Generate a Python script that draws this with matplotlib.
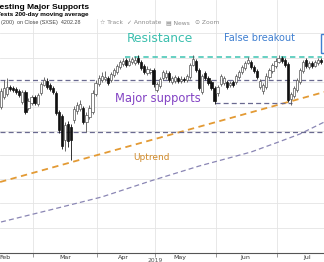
import matplotlib.pyplot as plt
from matplotlib.patches import Rectangle

# daily candles, mid Feb to mid Jul (index points)
opens = [4152, 4172, 4178, 4192, 4190, 4188, 4184, 4162, 4182, 4150,
         4160, 4172, 4158, 4180, 4196, 4204, 4196, 4190, 4180, 4142,
         4134, 4086, 4118, 4112, 4126, 4144, 4148, 4150, 4122, 4132,
         4142, 4178, 4198, 4206, 4208, 4210, 4206, 4216, 4222, 4232,
         4238, 4246, 4236, 4242, 4240, 4250, 4242, 4234, 4220, 4222,
         4226, 4186, 4194, 4210, 4212, 4220, 4202, 4204, 4210, 4204,
         4208, 4206, 4212, 4236, 4244, 4226, 4182, 4220, 4210, 4202,
         4190, 4180, 4198, 4200, 4202, 4196, 4202, 4202, 4212, 4222,
         4230, 4240, 4242, 4232, 4224, 4192, 4184, 4192, 4212, 4224,
         4234, 4242, 4250, 4246, 4238, 4168, 4174, 4186, 4202, 4224,
         4246, 4232, 4240, 4234, 4240, 4246]
closes = [4184, 4190, 4192, 4188, 4186, 4182, 4176, 4182, 4142, 4164,
          4172, 4160, 4176, 4198, 4206, 4192, 4188, 4182, 4140, 4106,
          4074, 4116, 4084, 4086, 4148, 4156, 4158, 4122, 4136, 4150,
          4180, 4200, 4210, 4214, 4212, 4200, 4218, 4226, 4234, 4242,
          4244, 4236, 4244, 4248, 4246, 4242, 4230, 4222, 4228, 4226,
          4198, 4198, 4208, 4222, 4220, 4206, 4210, 4212, 4204, 4208,
          4206, 4214, 4236, 4248, 4226, 4190, 4214, 4210, 4200, 4190,
          4164, 4192, 4214, 4210, 4192, 4200, 4196, 4214, 4222, 4232,
          4240, 4246, 4232, 4224, 4212, 4204, 4196, 4214, 4226, 4236,
          4244, 4250, 4244, 4236, 4166, 4178, 4190, 4206, 4226, 4242,
          4234, 4240, 4234, 4242, 4246, 4242]
highs = [4190, 4206, 4210, 4196, 4194, 4192, 4188, 4186, 4186, 4170,
         4176, 4176, 4180, 4202, 4212, 4210, 4200, 4194, 4184, 4146,
         4138, 4122, 4124, 4118, 4154, 4162, 4166, 4154, 4142, 4156,
         4186, 4206, 4216, 4222, 4224, 4214, 4222, 4230, 4238, 4246,
         4250, 4250, 4250, 4252, 4254, 4256, 4246, 4238, 4234, 4230,
         4230, 4202, 4212, 4226, 4226, 4224, 4214, 4216, 4214, 4214,
         4212, 4218, 4240, 4256, 4248, 4230, 4218, 4224, 4214, 4206,
         4194, 4196, 4218, 4214, 4206, 4204, 4206, 4218, 4226, 4236,
         4244, 4252, 4246, 4236, 4228, 4208, 4200, 4220, 4230, 4240,
         4250, 4256, 4254, 4250, 4242, 4182, 4194, 4210, 4230, 4246,
         4250, 4244, 4244, 4246, 4250, 4250]
lows = [4148, 4168, 4174, 4184, 4182, 4178, 4172, 4158, 4138, 4146,
        4156, 4156, 4154, 4176, 4194, 4188, 4184, 4178, 4136, 4100,
        4068, 4064, 4072, 4046, 4120, 4138, 4144, 4118, 4102, 4128,
        4138, 4174, 4194, 4202, 4204, 4196, 4202, 4212, 4218, 4228,
        4234, 4232, 4234, 4238, 4236, 4238, 4226, 4218, 4216, 4218,
        4192, 4182, 4190, 4206, 4208, 4202, 4198, 4200, 4200, 4200,
        4202, 4202, 4208, 4234, 4222, 4186, 4178, 4206, 4196, 4186,
        4158, 4174, 4194, 4196, 4188, 4192, 4192, 4198, 4208, 4218,
        4226, 4238, 4228, 4220, 4208, 4188, 4178, 4188, 4208, 4220,
        4230, 4240, 4240, 4232, 4162, 4156, 4170, 4182, 4198, 4220,
        4230, 4228, 4230, 4232, 4236, 4238]

# 200-day moving average, read at a few points
ma_days = [0, 16, 33, 49, 65, 82, 91, 98, 106]
ma_values = [3922, 3946, 3972, 4004, 4034, 4062, 4082, 4098, 4122]

# drawn levels
trend_days = [-0.3, 106]
trend_values = [4002, 4182]
resistance = 4252
resistance_days = [40.7, 105.3]
support_levels = [4206, 4102]
mid_support = 4160
mid_support_days = [70.2, 95.4]

grid_levels = [4300, 4250, 4202, 4152, 4104, 4056, 4008, 3960, 3910]
month_labels = ['Feb', 'Mar', 'Apr', 'May', 'Jun', 'Jul']
month_label_days = [1.3, 21, 40, 58.7, 80, 100.3]
month_start_days = [10.5, 31.5, 50.5, 70.5, 90.5]

W, H = 324, 262


def px(x, y):
    return x / W, 1 - y / H


def draw_candles(ax):
    for i in range(len(opens)):
        o, c = opens[i], closes[i]
        up = c >= o
        ax.vlines(i, lows[i], highs[i], color='#555555' if up else '#111111', lw=0.6, zorder=3)
        bottom = min(o, c)
        height = max(abs(c - o), 0.8)
        ax.add_patch(Rectangle((i - 0.36, bottom), 0.72, height,
                               facecolor='white' if up else '#111111',
                               edgecolor='#555555' if up else '#111111',
                               lw=0.5, zorder=4))


def draw_levels(ax):
    ax.plot(ma_days, ma_values, color='#8a86b4', lw=0.9, ls=(0, (4, 2.5)), zorder=2)
    ax.plot(trend_days, trend_values, color='#e39a34', lw=1.3, ls=(0, (3.5, 2.5)), zorder=2)
    ax.plot(resistance_days, [resistance, resistance], color='#3cc3b2', lw=1.1, ls=(0, (3.5, 2.5)), zorder=2)
    for lvl in support_levels:
        ax.axhline(lvl, color='#6a6a90', lw=0.9, ls=(0, (4, 2.5)), zorder=2)
    ax.plot(mid_support_days, [mid_support, mid_support], color='#6a6a90', lw=0.9, ls=(0, (4, 2.5)), zorder=2)

    ax.text(41.3, 4290, 'Resistance', color='#3cbfae', fontsize=8.8, va='center', ha='left')
    ax.text(73.1, 4290, 'False breakout', color='#3f7fd0', fontsize=7, va='center', ha='left')
    ax.text(37.4, 4170, 'Major supports', color='#8444c4', fontsize=8.3, va='center', ha='left')
    ax.text(43.3, 4052, 'Uptrend', color='#d08a2a', fontsize=6.5, va='center', ha='left')
    ax.add_patch(Rectangle((104.9, 4260), 3, 38, fill=False, edgecolor='#3f7fd0', lw=1.0, zorder=5))


def style_axes(ax):
    ax.set_xlim(-0.33, 105.9)
    ax.set_ylim(3860, 4366)
    ax.set_yticks(grid_levels)
    ax.set_xticks(month_start_days)
    ax.set_xticks(month_label_days, minor=True)
    ax.set_xticklabels([])
    ax.set_xticklabels(month_labels, minor=True, fontsize=4.5, color='#333333')
    ax.tick_params(axis='y', length=0, labelleft=False)
    ax.tick_params(axis='x', which='major', length=3, color='#888888', width=0.6)
    ax.tick_params(axis='x', which='minor', length=0, pad=1.5)
    ax.grid(True, color='#e4e4e4', lw=0.6)
    ax.set_axisbelow(True)
    for side in ['top', 'left', 'right']:
        ax.spines[side].set_visible(False)
    ax.spines['bottom'].set_color('#555555')
    ax.spines['bottom'].set_linewidth(0.8)


def draw_header(fig):
    fig.patches.append(Rectangle(px(0, 19), 100 / W, 19 / H, transform=fig.transFigure,
                                 facecolor='white', edgecolor='none', zorder=5))
    fig.text(*px(-5, 7.5), 'Testing Major Supports', fontsize=6, fontweight='bold',
             family='Liberation Sans', va='center', zorder=6)
    fig.text(*px(-3, 14.5), 'Tests 200-day moving average', fontsize=4.6, fontweight='bold',
             family='Liberation Sans', va='center', zorder=6)
    fig.text(*px(1, 22.5), '(200)  on Close (SXSE)  4202.28', fontsize=3.9, color='#444444',
             family='Liberation Sans', va='center', zorder=6)
    tools = [(100, '\u2606 Track'), (127, '\u2713 Annotate'), (166, '\u25a4 News'), (195, '\u2299 Zoom')]
    for x, label in tools:
        fig.text(*px(x, 22.5), label, fontsize=4.3, color='#8a8a8a', va='center', zorder=6)
    fig.text(*px(147, 258), '2019', fontsize=4.3, color='#555555', va='top')


def plot():
    fig = plt.figure(figsize=(W / 100, H / 100), dpi=100)
    ax = fig.add_axes([0, 9 / H, 1, 253 / H])
    draw_candles(ax)
    draw_levels(ax)
    style_axes(ax)
    draw_header(fig)
    fig.savefig('out.png', dpi=100)


plot()
